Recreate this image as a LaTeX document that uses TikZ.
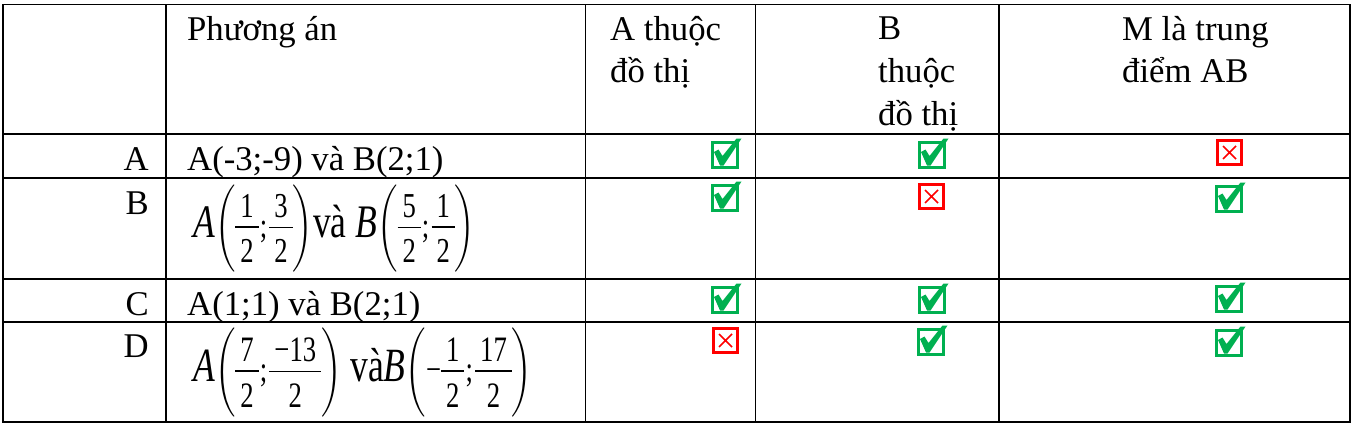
\documentclass[tikz,border=0pt]{standalone}
\usepackage{amsmath}
\usepackage{graphicx}
\usepackage{fontspec}
\setmainfont{Liberation Serif}
\definecolor{okgreen}{HTML}{00B050}
\definecolor{badred}{HTML}{FF0000}
\newcommand\dg{\fontsize{24}{24}\selectfont}
\newcommand\myfr[2]{\mathord{\vcenter{\offinterlineskip\halign{\hfil\kern4.5pt##\kern4.5pt\hfil\cr \dg #1\cr\noalign{\kern6pt\hrule height 1pt\kern8pt}\dg #2\cr}}}}
\newcommand\pstrut{\vcenter{\hbox{\rule{0pt}{57pt}}}}
\newcommand\semi{\mbox{\dg\kern1pt;\kern2pt}}
\begin{document}
\begin{tikzpicture}[x=1pt,y=-1pt,
  grid/.style={line width=1.5pt},
  cell/.style={anchor=base west,inner sep=0pt,font=\fontsize{34.7}{42}\selectfont},
  lab/.style={anchor=base east,inner sep=0pt,font=\fontsize{34.7}{42}\selectfont},
  formula/.style={anchor=north west,inner sep=0pt,font=\fontsize{32}{38}\selectfont},
  yes/.pic={
    \draw[okgreen,line width=3pt] (1.5,1.5) rectangle (26.5,26.5);
    \fill[okgreen] (3,11) -- (7.5,8.5) -- (11.5,15) -- (25.5,-2.5) -- (30.5,-2.5) -- (12.5,24.5) -- (9,24.5) -- cycle;
  },
  no/.pic={
    \draw[badred,line width=3pt] (1.5,1.5) rectangle (25.5,25.5);
    \draw[badred,line width=1.6pt] (7,7) -- (20,20) (20,7) -- (7,20);
  }]
\useasboundingbox (0,0) rectangle (1354,432);
% grid
\draw[grid] (3,4.5) rectangle (1350,422);
\foreach \yy in {134,178,279,322} \draw[grid] (3,\yy) -- (1350,\yy);
\foreach \xx in {166,585.5,755.5,999} \draw[grid] (\xx,4.5) -- (\xx,422);
% header
\node[cell] (h1) at (187,40) {Phương án};
\node[cell] (h2a) at (610,40) {A thuộc};
\node[cell] (h2b) at (610,82) {đồ thị};
\node[cell] (h3a) at (878,39) {B};
\node[cell] (h3b) at (878,82) {thuộc};
\node[cell] (h3c) at (878,125) {đồ thị};
\node[cell] (h4a) at (1122,40) {M là trung};
\node[cell] (h4b) at (1122,82) {điểm AB};
% row labels
\node[lab] (la) at (149,170) {A};
\node[lab] (lb) at (149,214) {B};
\node[lab] (lc) at (149,315) {C};
\node[lab] (ld) at (149,357) {D};
% options
\node[cell] (oa) at (187,170) {A(-3;-9) và B(2;1)};
\node[formula] (ob) at (193,185) {\resizebox*{282pt}{87pt}{\textit{A}$\left(\pstrut\myfr{1}{2}\semi\myfr{3}{2}\right)$và \textit{B}$\left(\pstrut\myfr{5}{2}\semi\myfr{1}{2}\right)$}};
\node[cell] (oc) at (187,315) {A(1;1) và B(2;1)};
\node[formula] (od) at (193,328) {\resizebox*{339pt}{89pt}{\textit{A}$\left(\pstrut\myfr{7}{2}\semi\myfr{−13}{2}\right)$ và\textit{B}$\left(\pstrut\mbox{\dg −}\myfr{1}{2}\semi\myfr{17}{2}\right)$}};
% marks
\pic at (711,141) {yes};
\pic at (918,141) {yes};
\pic at (1216,139) {no};
\pic at (711,184) {yes};
\pic at (918,183) {no};
\pic at (1215,185) {yes};
\pic at (711,286) {yes};
\pic at (918,286) {yes};
\pic at (1215,285) {yes};
\pic at (712,327) {no};
\pic at (917,328) {yes};
\pic at (1215,329) {yes};
\end{tikzpicture}
\end{document}
